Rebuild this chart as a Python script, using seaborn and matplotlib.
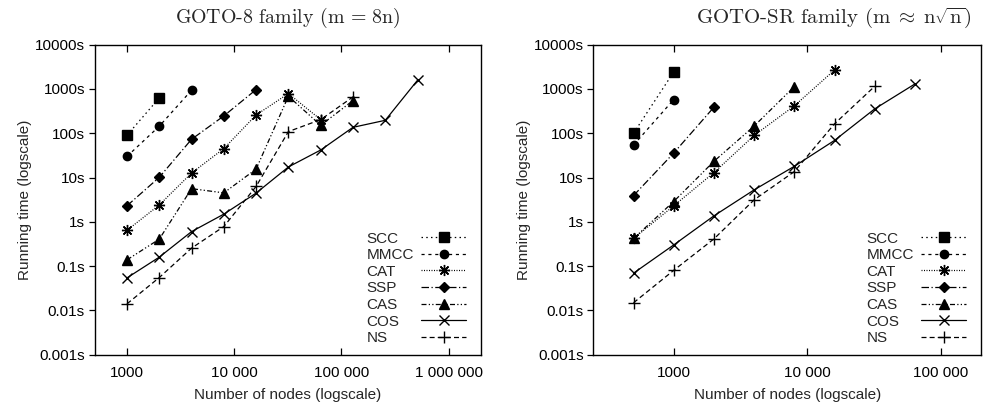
import numpy as np
import pandas as pd
import matplotlib
matplotlib.use("Agg")
import matplotlib.pyplot as plt
from matplotlib.ticker import NullLocator
from matplotlib.offsetbox import DrawingArea
import seaborn as sns

# ---------------- data ----------------
series_names = ["SCC", "MMCC", "CAT", "SSP", "CAS", "COS", "NS"]

# GOTO-8 family (m = 8n)
left_nodes = [1000, 2000, 4000, 8000, 16000, 32000, 64000, 128000, 256000, 512000]
left_scc = [90, 628]
left_mmcc = [30, 144, 936]
left_cat = [0.64, 2.4, 12.6, 45, 259, 787, 203]
left_ssp = [2.3, 10.1, 73, 246, 969]
left_cas = [0.138, 0.405, 5.6, 4.5, 15.5, 685, 151, 547]
left_cos = [0.054, 0.159, 0.60, 1.49, 4.45, 17.3, 41.8, 136, 196, 1577]
left_ns = [0.014, 0.055, 0.254, 0.78, 6.3, 109, 203, 661]

# GOTO-SR family (m ~ n sqrt n)
right_nodes = [500, 1000, 2000, 4000, 8000, 16000, 32000, 64000]
right_scc = [100, 2417]
right_mmcc = [54, 576]
right_cat = [0.42, 2.29, 12.9, 89, 415, 2681]
right_ssp = [3.9, 35.7, 387]
right_cas = [0.42, 2.87, 23.2, 145, 1130]
right_cos = [0.069, 0.30, 1.36, 5.25, 17.9, 68.9, 355, 1298]
right_ns = [0.0148, 0.080, 0.41, 3.13, 13.6, 163, 1149]

y_ticks = [0.001, 0.01, 0.1, 1, 10, 100, 1000, 10000]
y_tick_labels = ["0.001s", "0.01s", "0.1s", "1s", "10s", "100s", "1000s", "10000s"]
left_x_ticks = [1000, 10000, 100000, 1000000]
left_x_tick_labels = ["1000", "10 000", "100 000", "1 000 000"]
right_x_ticks = [1000, 10000, 100000]
right_x_tick_labels = ["1000", "10 000", "100 000"]

left_title = r"GOTO-8 family ($\mathrm{m}\,=\,8\mathrm{n}$)"
right_title = r"GOTO-SR family ($\mathrm{m}\;\approx\;\mathrm{n}\sqrt{\mathrm{n}}$)"
x_label = "Number of nodes (logscale)"
y_label = "Running time (logscale)"

# ---------------- styles ----------------
styles = {
    "SCC":  dict(marker="s", ms=6.5, ls=(0, (1.2, 2.6))),
    "MMCC": dict(marker="o", ms=6.0, ls=(0, (2.5, 3.0))),
    "CAT":  dict(marker=(8, 2, 0), ms=8.0, ls=(0, (0.8, 1.2))),
    "SSP":  dict(marker="D", ms=5.0, ls=(0, (6, 2, 1, 2))),
    "CAS":  dict(marker="^", ms=6.5, ls=(0, (4, 1.8, 1, 1.8, 1, 1.8))),
    "COS":  dict(marker="x", ms=7.5, ls="-"),
    "NS":   dict(marker="+", ms=9.0, ls=(0, (4, 2.5))),
}

FS = 11

sns.set_style("ticks")
plt.rcParams["font.family"] = ["Liberation Sans", "DejaVu Sans"]
plt.rcParams["mathtext.fontset"] = "cm"

fig = plt.figure(figsize=(9.84, 4.08), dpi=100)
ax_l = fig.add_axes([94.7 / 984, 1 - 354.6 / 408, (481 - 94.7) / 984, (354.6 - 44.7) / 408])
ax_r = fig.add_axes([593.3 / 984, 1 - 354.6 / 408, (981 - 593.3) / 984, (354.6 - 44.7) / 408])

legends = []


def draw(ax, nodes, data, xlim, xticks, xticklabels, title, title_x, title_fs):
    for name, vals in zip(series_names, data):
        st = styles[name]
        df = pd.DataFrame({"n": nodes[:len(vals)], "t": vals})
        sns.lineplot(data=df, x="n", y="t", ax=ax, color="black", lw=0.9,
                     linestyle=st["ls"], marker=st["marker"], markersize=st["ms"],
                     markeredgecolor="black", markerfacecolor="black",
                     markeredgewidth=1.0, label=name, errorbar=None, sort=False)
    ax.set_xscale("log")
    ax.set_yscale("log")
    ax.set_xlim(*xlim)
    ax.set_ylim(0.001, 10000)
    ax.set_xticks(xticks)
    ax.set_xticklabels(xticklabels)
    ax.set_yticks(y_ticks)
    ax.set_yticklabels(y_tick_labels)
    ax.xaxis.set_minor_locator(NullLocator())
    ax.yaxis.set_minor_locator(NullLocator())
    ax.tick_params(axis="x", direction="in", top=True, bottom=True, length=5,
                   width=0.9, labelsize=FS, pad=8, colors="black")
    ax.tick_params(axis="y", direction="out", left=True, right=False, length=4,
                   width=0.9, labelsize=FS, pad=3, colors="black")
    for sp in ax.spines.values():
        sp.set_visible(True)
        sp.set_linewidth(1.0)
        sp.set_color("black")
    ax.set_xlabel(x_label, fontsize=FS, labelpad=6)
    ax.set_ylabel(y_label, fontsize=FS, labelpad=2)
    fig.text(title_x / 984, 1 - 18 / 408, title, ha="center", va="center",
             fontsize=title_fs, family="cmr10")
    leg = ax.legend(loc="lower right", bbox_to_anchor=(0.985, 0.0), frameon=False,
                    markerfirst=False, fontsize=FS, handlelength=2.9,
                    handletextpad=0.25, labelspacing=0.17, borderaxespad=0.22)
    legends.append(leg)


draw(ax_l, left_nodes,
     [left_scc, left_mmcc, left_cat, left_ssp, left_cas, left_cos, left_ns],
     (500, 2000000), left_x_ticks, left_x_tick_labels, left_title, 288, 14.3)
draw(ax_r, right_nodes,
     [right_scc, right_mmcc, right_cat, right_ssp, right_cas, right_cos, right_ns],
     (250, 200000), right_x_ticks, right_x_tick_labels, right_title, 834, 15.0)

# left-align legend labels (gnuplot style: text left, sample right)
fig.canvas.draw()
renderer = fig.canvas.get_renderer()
for leg in legends:
    for col in leg._legend_handle_box.get_children():
        rows = col.get_children()
        widths = [row.get_children()[0].get_bbox(renderer).width for row in rows]
        wmax = max(widths)
        for row, w in zip(rows, widths):
            kids = row.get_children()
            spacer = DrawingArea((wmax - w) * 72.0 / fig.dpi, 0.1)
            row._children = [kids[0], spacer, kids[1]]

fig.savefig("out.png", dpi=100)
